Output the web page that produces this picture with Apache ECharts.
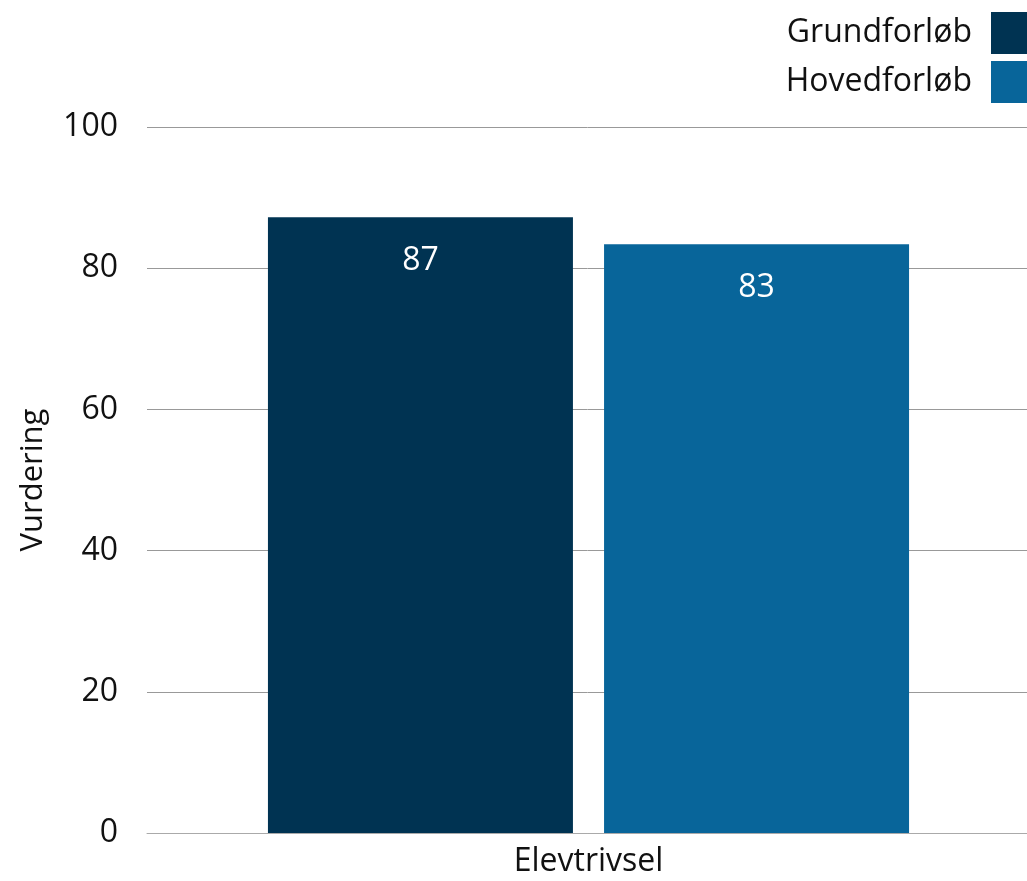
<!DOCTYPE html>
<html>
<head>
<meta charset="utf-8">
<script src="https://cdn.jsdelivr.net/npm/echarts@6/dist/echarts.min.js"></script>
<style>html,body{margin:0;padding:0;background:#fff}#c{width:1027px;height:881px}</style>
</head>
<body>
<div id="c"></div>
<script>
const categories = ["Elevtrivsel"];
const seriesNames = ["Grundforløb", "Hovedforløb"];
const grundforlob = [87.2];
const hovedforlob = [83.4];
const yTicks = [0, 20, 40, 60, 80, 100];
const colors = ["#003352", "#08659A"];
const FONT = "Open Sans";

const chart = echarts.init(document.getElementById('c'), null, {renderer: 'canvas'});
const labelCfg = {
  show: true, position: 'insideTop', distance: 28,
  color: '#ffffff', fontSize: 32, fontFamily: FONT,
  formatter: p => Math.round(p.value)
};
chart.setOption({
  animation: false,
  textStyle: {fontFamily: FONT},
  legend: {
    orient: 'vertical', right: 0, top: 12, align: 'right', padding: 0,
    itemWidth: 36, itemHeight: 42, itemGap: 7,
    icon: 'rect',
    textStyle: {fontSize: 32, color: '#111', fontFamily: FONT, padding: [0, 14, 0, 0]},
    data: seriesNames
  },
  grid: {left: 147, right: -3, top: 127, bottom: 48, containLabel: false, outerBoundsMode: 'none'},
  xAxis: {
    type: 'category', data: categories,
    axisLine: {show: true, lineStyle: {color: '#aaaaaa', width: 1}},
    axisTick: {show: false},
    axisLabel: {fontSize: 32, color: '#111', fontFamily: FONT, margin: 13}
  },
  yAxis: {
    type: 'value', min: 0, max: 100, interval: 20,
    name: 'Vurdering', nameLocation: 'middle', nameGap: 98, nameRotate: 90,
    nameTextStyle: {fontSize: 31, color: '#111', fontFamily: FONT},
    axisLine: {show: false}, axisTick: {show: false},
    axisLabel: {fontSize: 32, color: '#111', fontFamily: FONT, margin: 29,
      formatter: v => yTicks.includes(v) ? String(v) : ''},
    splitLine: {lineStyle: {color: '#999999', width: 1}}
  },
  series: [
    {name: seriesNames[0], type: 'bar', data: grundforlob, barWidth: 305, barGap: '10.2%',
     itemStyle: {color: colors[0]}, label: labelCfg},
    {name: seriesNames[1], type: 'bar', data: hovedforlob, barWidth: 305, barGap: '10.2%',
     itemStyle: {color: colors[1]}, label: labelCfg}
  ]
});
</script>
</body>
</html>
